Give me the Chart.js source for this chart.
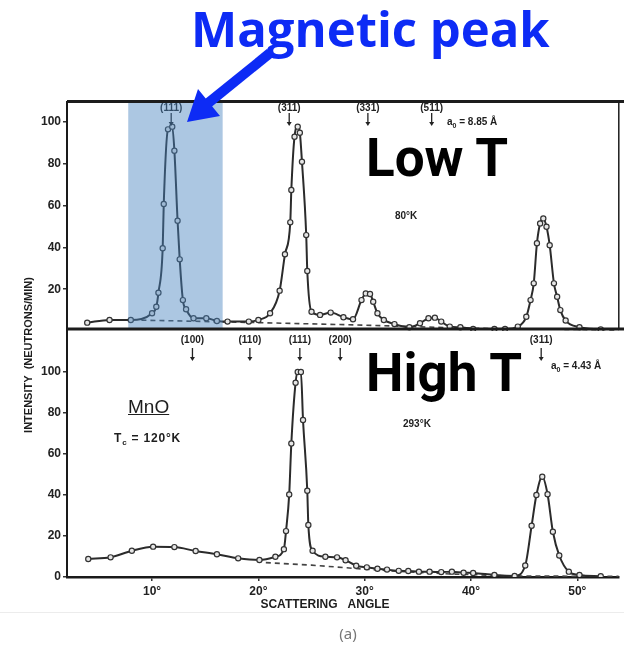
<!DOCTYPE html>
<html>
<head>
<meta charset="utf-8">
<script src="https://cdn.jsdelivr.net/npm/chart.js@4.4.1/dist/chart.umd.min.js"></script>
<style>
  body { margin: 0; width: 624px; height: 651px; background: #fff; position: relative; overflow: hidden; font-family: "Liberation Sans", Arial, sans-serif; }
  canvas { position: absolute; left: 0; top: 0; }
  .txt { position: absolute; white-space: nowrap; line-height: 1; color: #1e1e1e; }
  .small { font-size: 10px; font-weight: bold; }
  .big { font-family: Roboto, sans-serif; font-weight: 700; font-size: 53px; color: #000; }
  svg { position: absolute; left: 0; top: 0; }
</style>
</head>
<body>
<canvas id="lowT" width="624" height="651"></canvas>
<canvas id="highT" width="624" height="651"></canvas>

<div class="txt" style="left:191px;top:4px;font-family:'Open Sans',sans-serif;font-weight:700;font-size:49px;color:#0d2bf5;">Magnetic peak</div>
<svg width="624" height="651">
  <line x1="270" y1="53" x2="207" y2="104" stroke="#0d2bf5" stroke-width="10"/>
  <polygon points="187,122 220,116 198,89" fill="#0d2bf5"/>
</svg>

<div class="txt big" style="left:366px;top:132px;">Low T</div>
<div class="txt big" style="left:366px;top:347px;">High T</div>

<div class="txt small" style="left:447px;top:117px;">a<sub style="font-size:7px">0</sub> = 8.85 Å</div>
<div class="txt small" style="left:395px;top:211px;">80°K</div>
<div class="txt small" style="left:551px;top:361px;">a<sub style="font-size:7px">0</sub> = 4.43 Å</div>
<div class="txt small" style="left:403px;top:419px;">293°K</div>
<div class="txt" style="left:128px;top:397px;font-size:19px;text-decoration:underline;">MnO</div>
<div class="txt" style="left:114px;top:432px;font-size:12px;font-weight:bold;letter-spacing:0.8px;">T<sub style="font-size:8px">c</sub> = 120°K</div>

<div class="txt" style="left:28px;top:355px;font-size:11px;font-weight:bold;transform:translate(-50%,-50%) rotate(-90deg);">INTENSITY&nbsp;&nbsp;(NEUTRONS/MIN)</div>
<div class="txt" style="left:325px;top:604px;font-size:12px;font-weight:bold;transform:translate(-50%,-50%);">SCATTERING&nbsp;&nbsp;&nbsp;ANGLE</div>

<div style="position:absolute;left:0;top:612px;width:624px;height:1px;background:#ececec;"></div>
<div class="txt" style="left:348px;top:633px;font-family:'Noto Sans',sans-serif;font-size:15px;color:#777;transform:translate(-50%,-50%);">(a)</div>

<script>
// 80 K scan (antiferromagnetic MnO)
const lowAngle  = [3.9, 6.0, 8.0, 10.0, 10.4, 10.6, 11.0, 11.1, 11.5, 11.9, 12.1, 12.4, 12.6, 12.9, 13.2, 13.9, 15.1, 16.1, 17.1, 19.1,
                   20.0, 21.1, 22.0, 22.5, 23.0, 23.1, 23.4, 23.7, 23.9, 24.1, 24.5, 24.6, 25.0, 25.8, 26.8, 28.0, 28.9, 29.7, 30.1, 30.5,
                   30.8, 31.2, 31.8, 32.8, 34.2, 35.2, 36.0, 36.6, 37.2, 38.0, 39.0, 40.2, 42.2, 43.2, 44.4, 45.2, 45.6, 45.9, 46.2, 46.5,
                   46.8, 47.1, 47.4, 47.8, 48.1, 48.4, 48.9, 50.2, 52.2];
const lowCounts = [4.0, 5.3, 5.3, 8.5, 11.6, 18.3, 39.6, 60.8, 96.5, 97.8, 86.3, 52.8, 34.3, 14.8, 10.4, 6.1, 6.1, 4.8, 4.5, 4.5,
                   5.3, 8.5, 19.3, 36.7, 52.0, 67.5, 93.0, 97.8, 94.9, 81.0, 45.9, 28.7, 9.2, 7.7, 8.8, 6.6, 5.6, 14.8, 18.0, 17.7,
                   14.0, 8.5, 5.3, 3.3, 1.8, 3.7, 6.1, 6.4, 4.5, 2.1, 1.8, 1.0, 1.0, 1.0, 2.1, 6.8, 14.8, 22.8, 42.0, 51.5,
                   53.9, 49.9, 41.1, 22.8, 16.4, 10.0, 5.0, 1.8, 0.8];
const lowBgAngle  = [9.0, 20.0, 30.0, 40.0, 53.9];
const lowBgCounts = [5.2, 4.0, 2.8, 1.3, 0.5];

// 293 K scan (paramagnetic MnO)
const highAngle  = [4.0, 6.1, 8.1, 10.1, 12.1, 14.1, 16.1, 18.1, 20.1, 21.6, 22.4, 22.6, 22.9, 23.1, 23.5, 23.7, 24.0, 24.2, 24.6, 24.7,
                    25.1, 26.3, 27.4, 28.2, 29.2, 30.2, 31.2, 32.1, 33.2, 34.1, 35.1, 36.1, 37.2, 38.2, 39.3, 40.2, 42.2, 44.1, 45.1, 45.7,
                    46.15, 46.7, 47.2, 47.7, 48.3, 49.2, 50.2, 52.2];
const highCounts = [8.8, 9.6, 12.8, 14.8, 14.6, 12.7, 11.1, 9.1, 8.3, 9.9, 13.6, 22.4, 40.3, 65.2, 94.8, 100, 100, 76.6, 42.1, 25.4,
                    12.8, 9.9, 9.6, 8.2, 5.5, 4.7, 4.0, 3.6, 3.0, 2.9, 2.6, 2.6, 2.4, 2.6, 2.1, 2.0, 1.0, 0.5, 5.6, 25.0,
                    40.0, 48.9, 40.4, 22.1, 10.5, 2.6, 1.0, 0.4];
const highBgAngle  = [20.7, 25.0, 29.0, 33.0, 38.0, 44.0, 53.9];
const highBgCounts = [7.0, 5.8, 4.2, 2.8, 1.5, 0.5, 0.3];

// reflections marked above each scan
const lowPeaks  = ['(111)', '(311)', '(331)', '(511)'];
const lowPeakAngle  = [11.8, 22.9, 30.3, 36.3];
const highPeaks = ['(100)', '(110)', '(111)', '(200)', '(311)'];
const highPeakAngle = [13.8, 19.2, 23.9, 27.7, 46.6];

const angleTicks = [10, 20, 30, 40, 50];
const lowTicks   = [20, 40, 60, 80, 100];
const highTicks  = [0, 20, 40, 60, 80, 100];

const ink = '#222';
const tickFont = { family: '"Liberation Sans", Arial, sans-serif', size: 12, weight: 'bold' };

const toPoints = (xs, ys) => xs.map((v, i) => ({ x: v, y: ys[i] }));

const panelFrame = {
  id: 'panelFrame',
  afterDraw(chart, args, opts) {
    const { ctx, chartArea: a, width } = chart;
    ctx.save();
    ctx.strokeStyle = '#1c1c1c';
    ctx.lineWidth = 3;
    ctx.beginPath();
    ctx.moveTo(a.left, a.top - 0.5); ctx.lineTo(width, a.top - 0.5);
    ctx.moveTo(a.left, a.bottom - 2); ctx.lineTo(width, a.bottom - 2);
    ctx.stroke();
    ctx.lineWidth = 1.5;
    ctx.beginPath();
    ctx.moveTo(a.right, a.top); ctx.lineTo(a.right, a.bottom - 2);
    ctx.stroke();
    ctx.restore();
  }
};

const peakMarks = {
  id: 'peakMarks',
  afterDatasetsDraw(chart, args, opts) {
    const { ctx, chartArea: a, scales: { x } } = chart;
    ctx.save();
    ctx.fillStyle = ink; ctx.strokeStyle = ink;
    ctx.font = 'bold 10px "Liberation Sans", Arial, sans-serif';
    ctx.textAlign = 'center'; ctx.textBaseline = 'middle';
    opts.names.forEach((name, i) => {
      const px = x.getPixelForValue(opts.angles[i]);
      ctx.fillText(name, px, a.top + opts.textY);
      const y0 = a.top + opts.arrowFrom, y1 = a.top + opts.arrowTo;
      ctx.lineWidth = 1.3;
      ctx.beginPath(); ctx.moveTo(px, y0); ctx.lineTo(px, y1 - 3); ctx.stroke();
      ctx.beginPath(); ctx.moveTo(px - 2.5, y1 - 4); ctx.lineTo(px + 2.5, y1 - 4); ctx.lineTo(px, y1); ctx.closePath(); ctx.fill();
    });
    ctx.restore();
  }
};

const magneticBand = {
  id: 'magneticBand',
  afterDatasetsDraw(chart, args, opts) {
    const { ctx, chartArea: a, scales: { x } } = chart;
    const x1 = x.getPixelForValue(opts.from), x2 = x.getPixelForValue(opts.to);
    ctx.save();
    ctx.fillStyle = opts.color;
    ctx.fillRect(x1, a.top + 1, x2 - x1, a.bottom - a.top - 4);
    ctx.restore();
  }
};

function scanSet(points) {
  return {
    data: points, showLine: true, cubicInterpolationMode: 'monotone',
    borderColor: '#2b2b2b', borderWidth: 2,
    pointRadius: 2.6, pointBorderWidth: 1.2, pointBorderColor: '#333', pointBackgroundColor: '#e6e6e6'
  };
}
function baseSet(points) {
  return {
    data: points, showLine: true, borderColor: '#444', borderWidth: 1.6, borderDash: [5, 4], pointRadius: 0
  };
}
function yAxis(min, max, ticks) {
  return {
    min, max,
    afterFit(s) { s.width = 67; },
    afterBuildTicks(s) { s.ticks = ticks.map(v => ({ value: v })); },
    ticks: { color: ink, font: tickFont, padding: 2 },
    grid: { drawOnChartArea: false, drawTicks: true, tickLength: 4, color: '#333', lineWidth: 1.5 },
    border: { display: true, color: '#1a1a1a', width: 2 }
  };
}

new Chart(document.getElementById('lowT'), {
  type: 'scatter',
  data: { datasets: [scanSet(toPoints(lowAngle, lowCounts)), baseSet(toPoints(lowBgAngle, lowBgCounts))] },
  options: {
    responsive: false, animation: false,
    layout: { padding: { top: 102, right: 2, bottom: 320, left: 0 } },
    plugins: {
      legend: { display: false }, tooltip: { enabled: false },
      peakMarks: { names: lowPeaks, angles: lowPeakAngle, textY: 6, arrowFrom: 11, arrowTo: 24 },
      magneticBand: { from: 7.76, to: 16.64, color: 'rgba(70,130,190,0.45)' }
    },
    scales: {
      x: { type: 'linear', min: 2, max: 53.9, display: false },
      y: yAxis(0, 109.6, lowTicks)
    }
  },
  plugins: [panelFrame, peakMarks, magneticBand]
});

new Chart(document.getElementById('highT'), {
  type: 'scatter',
  data: { datasets: [scanSet(toPoints(highAngle, highCounts)), baseSet(toPoints(highBgAngle, highBgCounts))] },
  options: {
    responsive: false, animation: false,
    layout: { padding: { top: 328, right: 2, bottom: 36, left: 0 } },
    plugins: {
      legend: { display: false }, tooltip: { enabled: false },
      peakMarks: { names: highPeaks, angles: highPeakAngle, textY: 12, arrowFrom: 20, arrowTo: 33 }
    },
    scales: {
      x: {
        type: 'linear', min: 2, max: 53.9,
        afterFit(s) { s.height = 38; },
        afterBuildTicks(s) { s.ticks = angleTicks.map(v => ({ value: v })); },
        ticks: { color: ink, font: tickFont, padding: 3, maxRotation: 0, callback: v => v + '°' },
        grid: { drawOnChartArea: false, drawTicks: true, tickLength: 4, color: '#333', lineWidth: 1.5 },
        border: { display: true, color: '#1a1a1a', width: 2.5 }
      },
      y: yAxis(0, 121.5, highTicks)
    }
  },
  plugins: [peakMarks]
});
</script>
</body>
</html>
